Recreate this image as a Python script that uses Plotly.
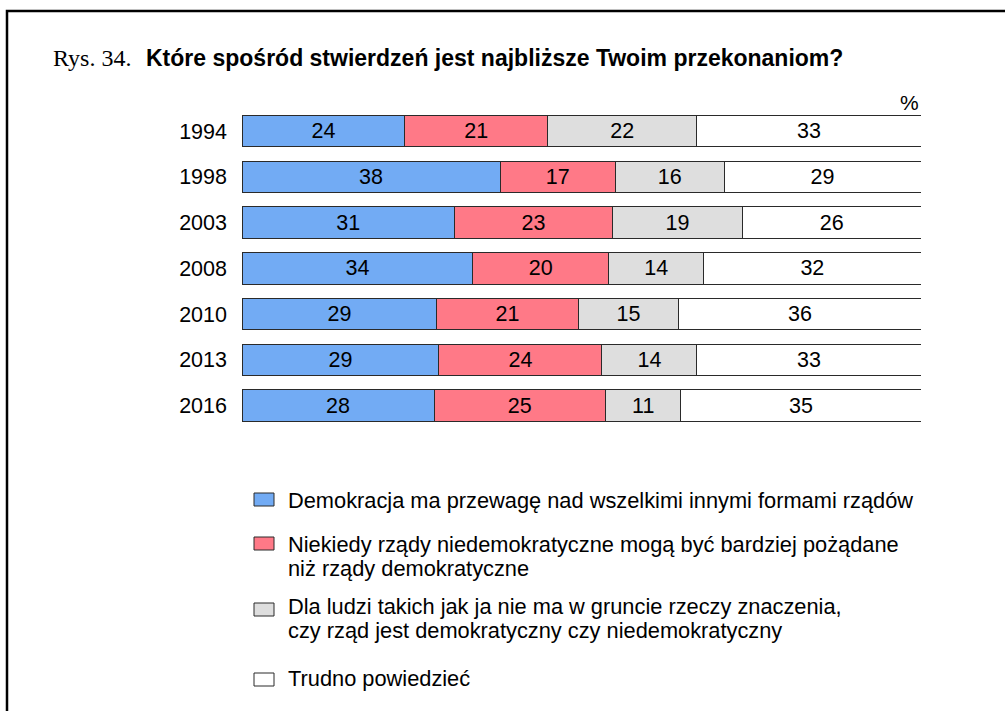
import plotly.graph_objects as go

# Survey years (one bar per year)
years = ["1994", "1998", "2003", "2008", "2010", "2013", "2016"]

# Answer shares in percent
demokracja = [24, 38, 31, 34, 29, 29, 28]
niedemokratyczne = [21, 17, 23, 20, 21, 24, 25]
bez_znaczenia = [22, 16, 19, 14, 15, 14, 11]
trudno_powiedziec = [33, 29, 26, 32, 36, 33, 35]

series_names = [
    "Demokracja ma przewagę nad wszelkimi innymi formami rządów",
    "Niekiedy rządy niedemokratyczne mogą być bardziej pożądane\nniż rządy demokratyczne",
    "Dla ludzi takich jak ja nie ma w gruncie rzeczy znaczenia,\nczy rząd jest demokratyczny czy niedemokratyczny",
    "Trudno powiedzieć",
]
series_values = [demokracja, niedemokratyczne, bez_znaczenia, trudno_powiedziec]
series_colors = ["#72ABF4", "#FF7987", "#DEDEDE", "#FFFFFF"]

W, H = 1005, 711
SANS = "Liberation Sans, Arial, Helvetica, sans-serif"
SERIF = "Liberation Serif, Times New Roman, serif"
EDGE = "#2a2a2a"


def px(x):
    return x / W


def py(y):
    return 1 - y / H


fig = go.Figure()
for name, vals, color in zip(series_names, series_values, series_colors):
    fig.add_trace(go.Bar(
        y=years,
        x=vals,
        orientation="h",
        name=name.replace("\n", " "),
        marker=dict(color=color, line=dict(color=EDGE, width=1)),
        text=vals,
        textposition="inside",
        insidetextanchor="middle",
        textangle=0,
        constraintext="none",
        textfont=dict(family=SANS, size=21.5, color="black"),
        showlegend=False,
        hoverinfo="skip",
    ))

shapes = [
    # outer frame
    dict(type="rect", xref="paper", yref="paper",
         x0=px(7), y0=py(11), x1=1.02, y1=-0.02,
         line=dict(color="black", width=2.5), fillcolor="rgba(0,0,0,0)"),
]
annotations = [
    dict(text="Rys. 34.", x=px(51), y=py(58), xref="paper", yref="paper",
         xanchor="left", yanchor="middle", showarrow=False,
         font=dict(family=SERIF, size=24, color="black")),
    dict(text="<b>Które spośród stwierdzeń jest najbliższe Twoim przekonaniom?</b>",
         x=px(144), y=py(58), xref="paper", yref="paper",
         xanchor="left", yanchor="middle", showarrow=False,
         font=dict(family=SANS, size=23, color="black")),
    dict(text="%", x=px(921), y=py(103), xref="paper", yref="paper",
         xanchor="right", yanchor="middle", showarrow=False,
         font=dict(family=SANS, size=21, color="black")),
]

# Hand-placed legend: swatch + wrapped label lines
legend_text_y = [500, 544, 606, 678]
legend_box_top = [493, 537, 603, 673]
line_step = 24
for name, color, ty, by in zip(series_names, series_colors, legend_text_y, legend_box_top):
    shapes.append(dict(type="rect", xref="paper", yref="paper",
                       x0=px(254), x1=px(274), y0=py(by), y1=py(by + 13),
                       line=dict(color=EDGE, width=1), fillcolor=color))
    for i, line in enumerate(name.split("\n")):
        annotations.append(dict(text=line, x=px(286), y=py(ty + i * line_step),
                                xref="paper", yref="paper",
                                xanchor="left", yanchor="middle", showarrow=False,
                                font=dict(family=SANS, size=21.8, color="black")))

fig.update_layout(
    width=W, height=H, autosize=False,
    margin=dict(l=0, r=0, t=0, b=0),
    paper_bgcolor="white", plot_bgcolor="white",
    barmode="stack", barnorm="percent", bargap=0.31,
    xaxis=dict(domain=[px(242), px(921)], range=[0, 100], visible=False),
    yaxis=dict(domain=[py(428.6), py(108.3)], type="category",
               categoryorder="array", categoryarray=years, range=[6.5, -0.5],
               showgrid=False, zeroline=False, showline=False, ticks="",
               ticklabelstandoff=14,
               tickfont=dict(family=SANS, size=21.5, color="black")),
    shapes=shapes,
    annotations=annotations,
    showlegend=False,
)

fig.write_html("out.html")
